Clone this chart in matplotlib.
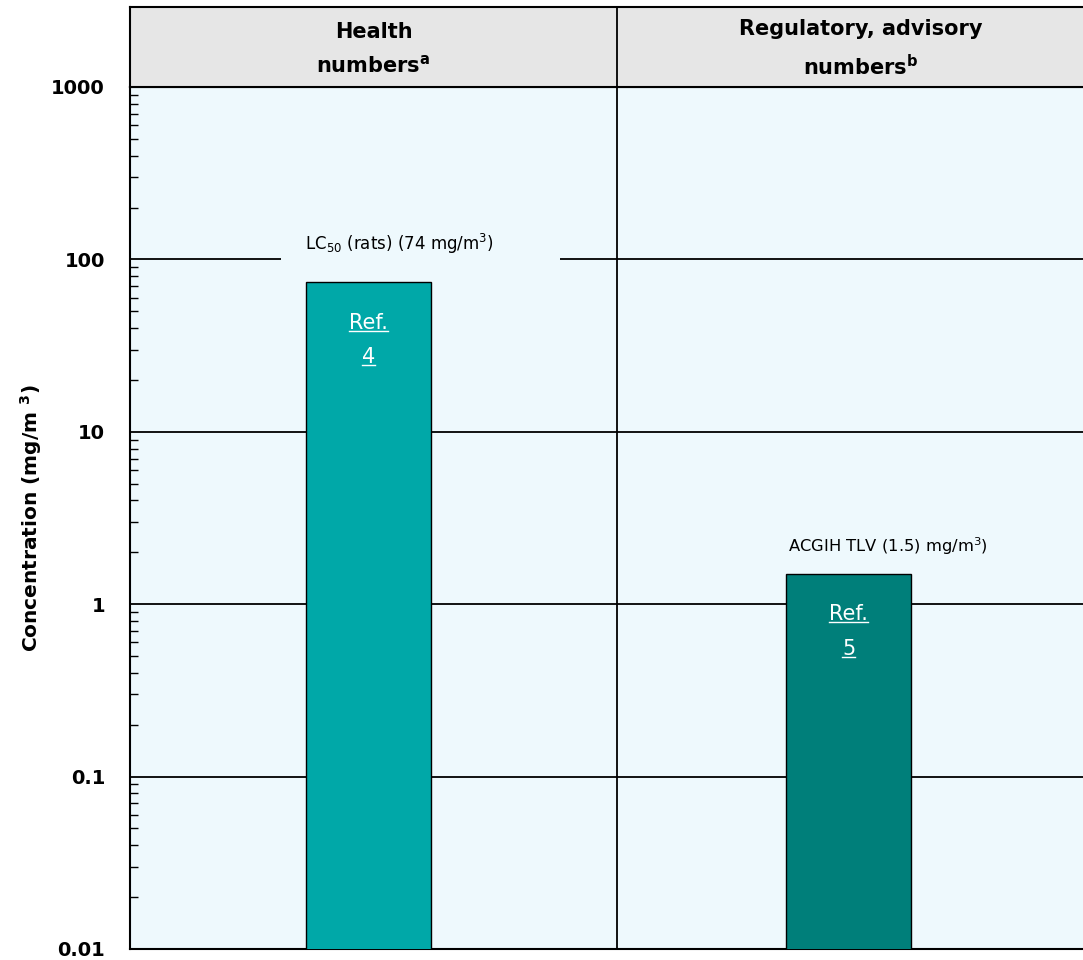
import matplotlib
matplotlib.use("Agg")
import matplotlib.pyplot as plt
from matplotlib.ticker import LogLocator, FixedLocator, NullFormatter
from matplotlib.lines import Line2D

plt.rcParams['font.family'] = ['DejaVu Sans']

# данные
groups = ['Health\nnumbers$^{\\mathbf{a}}$', 'Regulatory, advisory\nnumbers$^{\\mathbf{b}}$']
values = [74, 1.5]
labels = ['LC$_{50}$ (rats) (74 mg/m$^3$)', 'ACGIH TLV (1.5) mg/m$^3$)']
refs = ['4', '5']
colors = ['#00a8a8', '#007f7a']
xpos = [0.49, 1.476]
yticks = [0.01, 0.1, 1, 10, 100, 1000]
ytick_labels = ['0.01', '0.1', '1', '10', '100', '1000']

bg = '#eef9fd'

fig = plt.figure(figsize=(10.83, 9.6), dpi=100)
ax = fig.add_axes([130/1083, 11/960, 974/1083, 862/960])
hd = fig.add_axes([130/1083, 873/960, 974/1083, 80/960])

ax.set_facecolor(bg)
ax.set_yscale('log')
ax.set_ylim(0.01, 1000)
ax.set_xlim(0, 2)

# сетка по декадам
for yv in yticks[1:-1]:
    ax.axhline(yv, color='black', lw=1.3, zorder=1)
ax.axvline(1.0, color='black', lw=1.3, zorder=1)

ax.bar(xpos, values, width=0.257, color=colors, edgecolor='black', lw=1.0, zorder=3)

# подписи над столбцами
ax.annotate(labels[0] + '         ', (xpos[0], values[0]), xytext=(-46, 27),
            textcoords='offset points', ha='left', va='center', fontsize=12,
            bbox=dict(boxstyle='square,pad=1.4', fc=bg, ec='none'), zorder=4)
ax.annotate(labels[1], (xpos[1], values[1]), xytext=(28, 20),
            textcoords='offset points', ha='center', va='center', fontsize=11.8, zorder=4)

# ссылки (белые, подчеркнутые)
ref_texts = []
for x, v, r in zip(xpos, values, refs):
    t1 = ax.annotate('Ref.', (x, v), xytext=(0, -22), textcoords='offset points',
                     ha='center', va='top', color='white', fontsize=15, zorder=5)
    t2 = ax.annotate(r, (x, v), xytext=(0, -47), textcoords='offset points',
                     ha='center', va='top', color='white', fontsize=15, zorder=5)
    ref_texts += [t1, t2]

ax.yaxis.set_major_locator(FixedLocator(yticks))
ax.set_yticklabels(ytick_labels, fontsize=14, fontweight='bold')
ax.yaxis.set_minor_locator(LogLocator(base=10, subs=range(2, 10)))
ax.yaxis.set_minor_formatter(NullFormatter())
ax.tick_params(axis='y', which='major', length=0, pad=18)
ax.tick_params(axis='y', which='minor', direction='in', length=6, width=1)
ax.set_xticks([])
for s in ['left', 'bottom', 'top']:
    ax.spines[s].set_linewidth(1.5)
ax.spines['right'].set_visible(False)
ax.set_ylabel('Concentration (mg/m $^{\\mathbf{3}}$)', fontsize=14.5, fontweight='bold', labelpad=5)

# шапка таблицы
hd.set_facecolor('#e6e6e6')
hd.set_xlim(0, 2)
hd.set_ylim(0, 1)
hd.set_xticks([])
hd.set_yticks([])
hd.axvline(1.0, color='black', lw=1.3)
for s in hd.spines.values():
    s.set_linewidth(1.5)
for i, g in enumerate(groups):
    hd.text(i + 0.5, 0.47, g, ha='center', va='center', fontsize=15,
            fontweight='bold', linespacing=1.7)

# подчеркивание
fig.canvas.draw()
r = fig.canvas.get_renderer()
for t in ref_texts:
    bb = t.get_window_extent(r)
    y = bb.y0 + 2
    fig.add_artist(Line2D([bb.x0 / fig.bbox.width, bb.x1 / fig.bbox.width],
                          [y / fig.bbox.height, y / fig.bbox.height],
                          color='white', lw=1, zorder=6))

plt.savefig('out.png', dpi=100)
